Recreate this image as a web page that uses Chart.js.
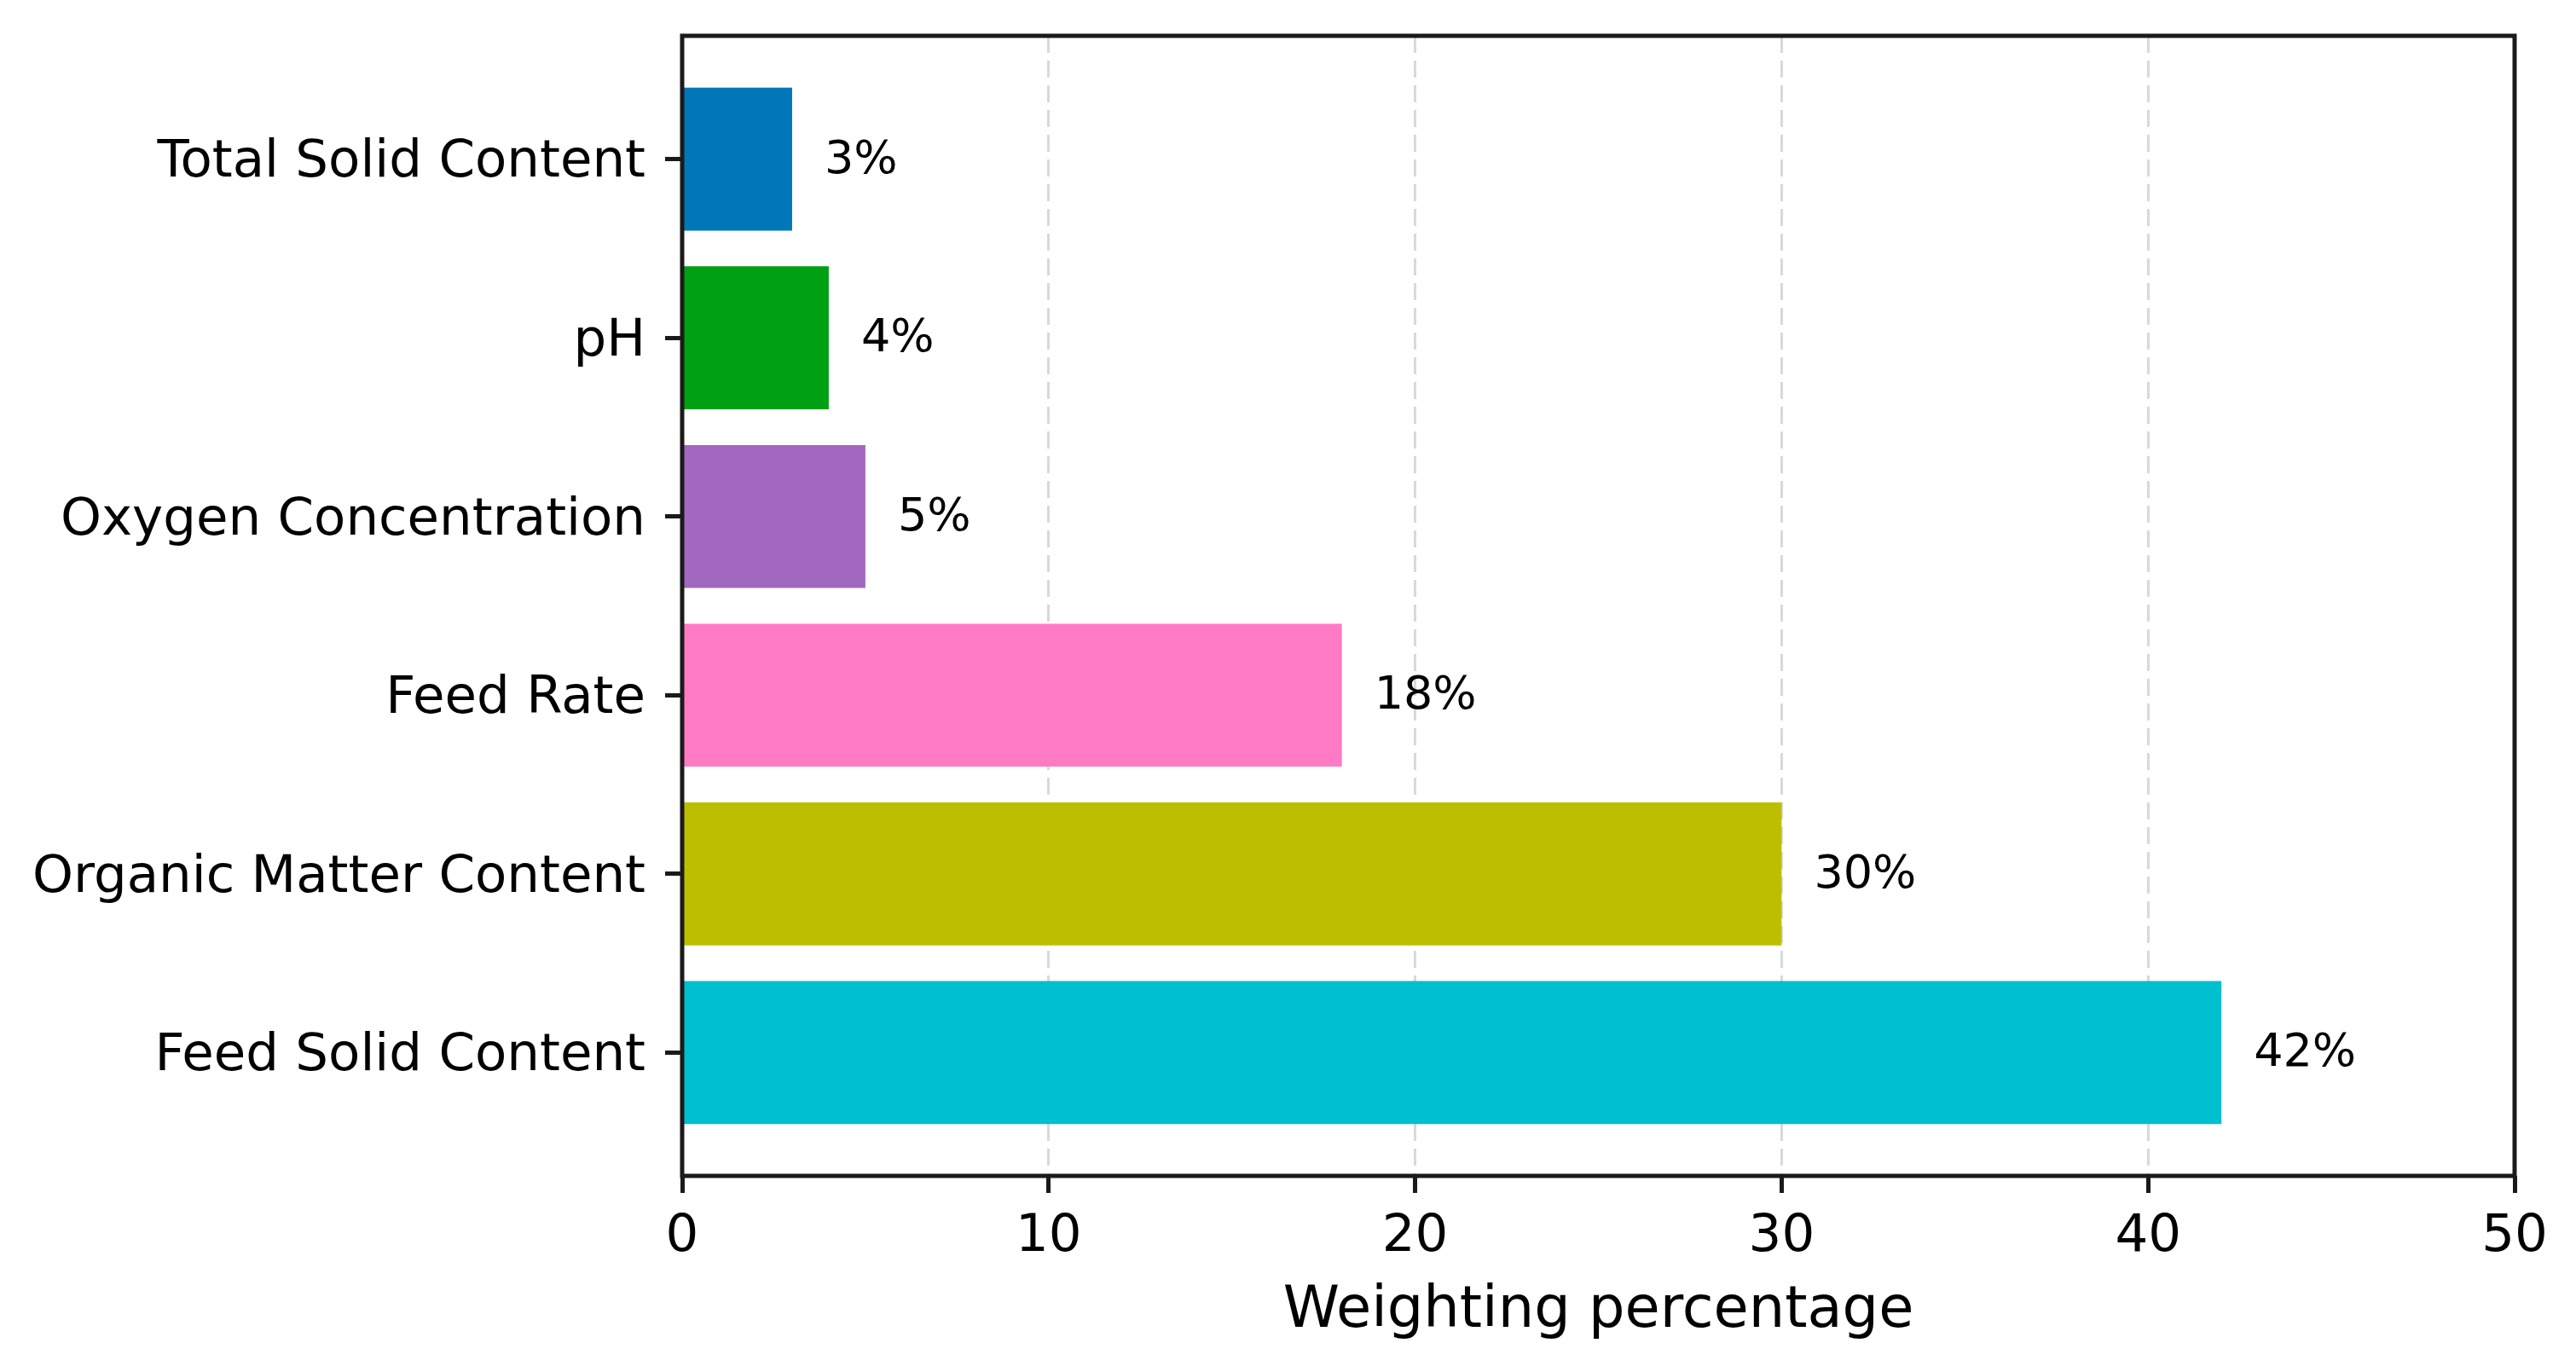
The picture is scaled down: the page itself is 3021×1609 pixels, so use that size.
<!DOCTYPE html>
<html>
<head>
<meta charset="utf-8">
<script src="https://cdn.jsdelivr.net/npm/chart.js@4/dist/chart.umd.min.js"></script>
<style>
  html, body { margin: 0; padding: 0; background: #ffffff; }
  #wrap { width: 3021px; height: 1609px; }
</style>
</head>
<body>
<div id="wrap"><canvas id="c" width="3021" height="1609"></canvas></div>
<script>
// ---- data (bottom to top, as drawn) ----
const categories = ['Feed Solid Content', 'Organic Matter Content', 'Feed Rate', 'Oxygen Concentration', 'pH', 'Total Solid Content'];
const weights = [42, 30, 18, 5, 4, 3];
const barColors = ['#00BFCF', '#BEBE00', '#FF7AC5', '#A268BF', '#00A014', '#0077B6'];
const xTicks = [0, 10, 20, 30, 40, 50];
const xTitle = 'Weighting percentage';
const valueSuffix = '%';

const FONT = "'DejaVu Sans', sans-serif";
const positions = categories.map((_, i) => i);
const points = weights.map((v, i) => ({ x: v, y: positions[i] }));

const valueLabels = {
  id: 'valueLabels',
  afterDatasetsDraw(chart) {
    const ctx = chart.ctx;
    const meta = chart.getDatasetMeta(0);
    ctx.save();
    ctx.font = '54px ' + FONT;
    ctx.fillStyle = '#000000';
    ctx.textAlign = 'left';
    ctx.textBaseline = 'middle';
    meta.data.forEach((bar, i) => {
      ctx.fillText(weights[i] + valueSuffix, bar.x + 38, bar.y + 2);
    });
    ctx.restore();
  }
};

const frame = {
  id: 'frame',
  afterDraw(chart) {
    const a = chart.chartArea;
    const ctx = chart.ctx;
    ctx.save();
    ctx.strokeStyle = '#1a1a1a';
    ctx.lineWidth = 5;
    ctx.setLineDash([]);
    ctx.strokeRect(a.left, a.top, a.right - a.left, a.bottom - a.top);
    ctx.restore();
  }
};

new Chart(document.getElementById('c'), {
  type: 'bar',
  data: {
    datasets: [{
      data: points,
      backgroundColor: barColors,
      borderWidth: 0,
      barPercentage: 0.8,
      categoryPercentage: 1.0
    }]
  },
  options: {
    indexAxis: 'y',
    responsive: false,
    animation: false,
    devicePixelRatio: 1,
    layout: { padding: { top: 42, right: 72, left: 0, bottom: 0 } },
    plugins: { legend: { display: false }, tooltip: { enabled: false } },
    scales: {
      x: {
        type: 'linear',
        position: 'bottom',
        min: xTicks[0],
        max: xTicks[xTicks.length - 1],
        z: 1,
        afterBuildTicks(scale) { scale.ticks = xTicks.map(v => ({ value: v })); },
        afterFit(scale) { scale.height = 230; scale.paddingLeft = 0; scale.paddingRight = 0; },
        ticks: {
          font: { family: FONT, size: 61 },
          color: '#000000',
          padding: 16,
          maxRotation: 0
        },
        grid: {
          drawOnChartArea: true,
          color: 'rgba(128,128,128,0.3)',
          lineWidth: 3,
          tickLength: 20,
          tickWidth: 5,
          tickColor: '#1a1a1a'
        },
        border: { display: false, dash: [20, 9] },
        title: {
          display: true,
          text: xTitle,
          font: { family: FONT, size: 67 },
          color: '#000000',
          padding: { top: 0, bottom: 30 }
        }
      },
      y: {
        type: 'linear',
        position: 'left',
        offset: false,
        min: -0.69,
        max: 5.69,
        afterBuildTicks(scale) { scale.ticks = positions.map(v => ({ value: v })); },
        afterFit(scale) { scale.width = 800; scale.paddingTop = 0; scale.paddingBottom = 0; },
        ticks: {
          font: { family: FONT, size: 61 },
          color: '#000000',
          padding: 23,
          labelOffset: 5,
          callback: (v) => categories[v]
        },
        grid: {
          offset: false,
          drawOnChartArea: false,
          tickLength: 20,
          tickWidth: 5,
          tickColor: '#1a1a1a'
        },
        border: { display: false }
      }
    }
  },
  plugins: [valueLabels, frame]
});
</script>
</body>
</html>
